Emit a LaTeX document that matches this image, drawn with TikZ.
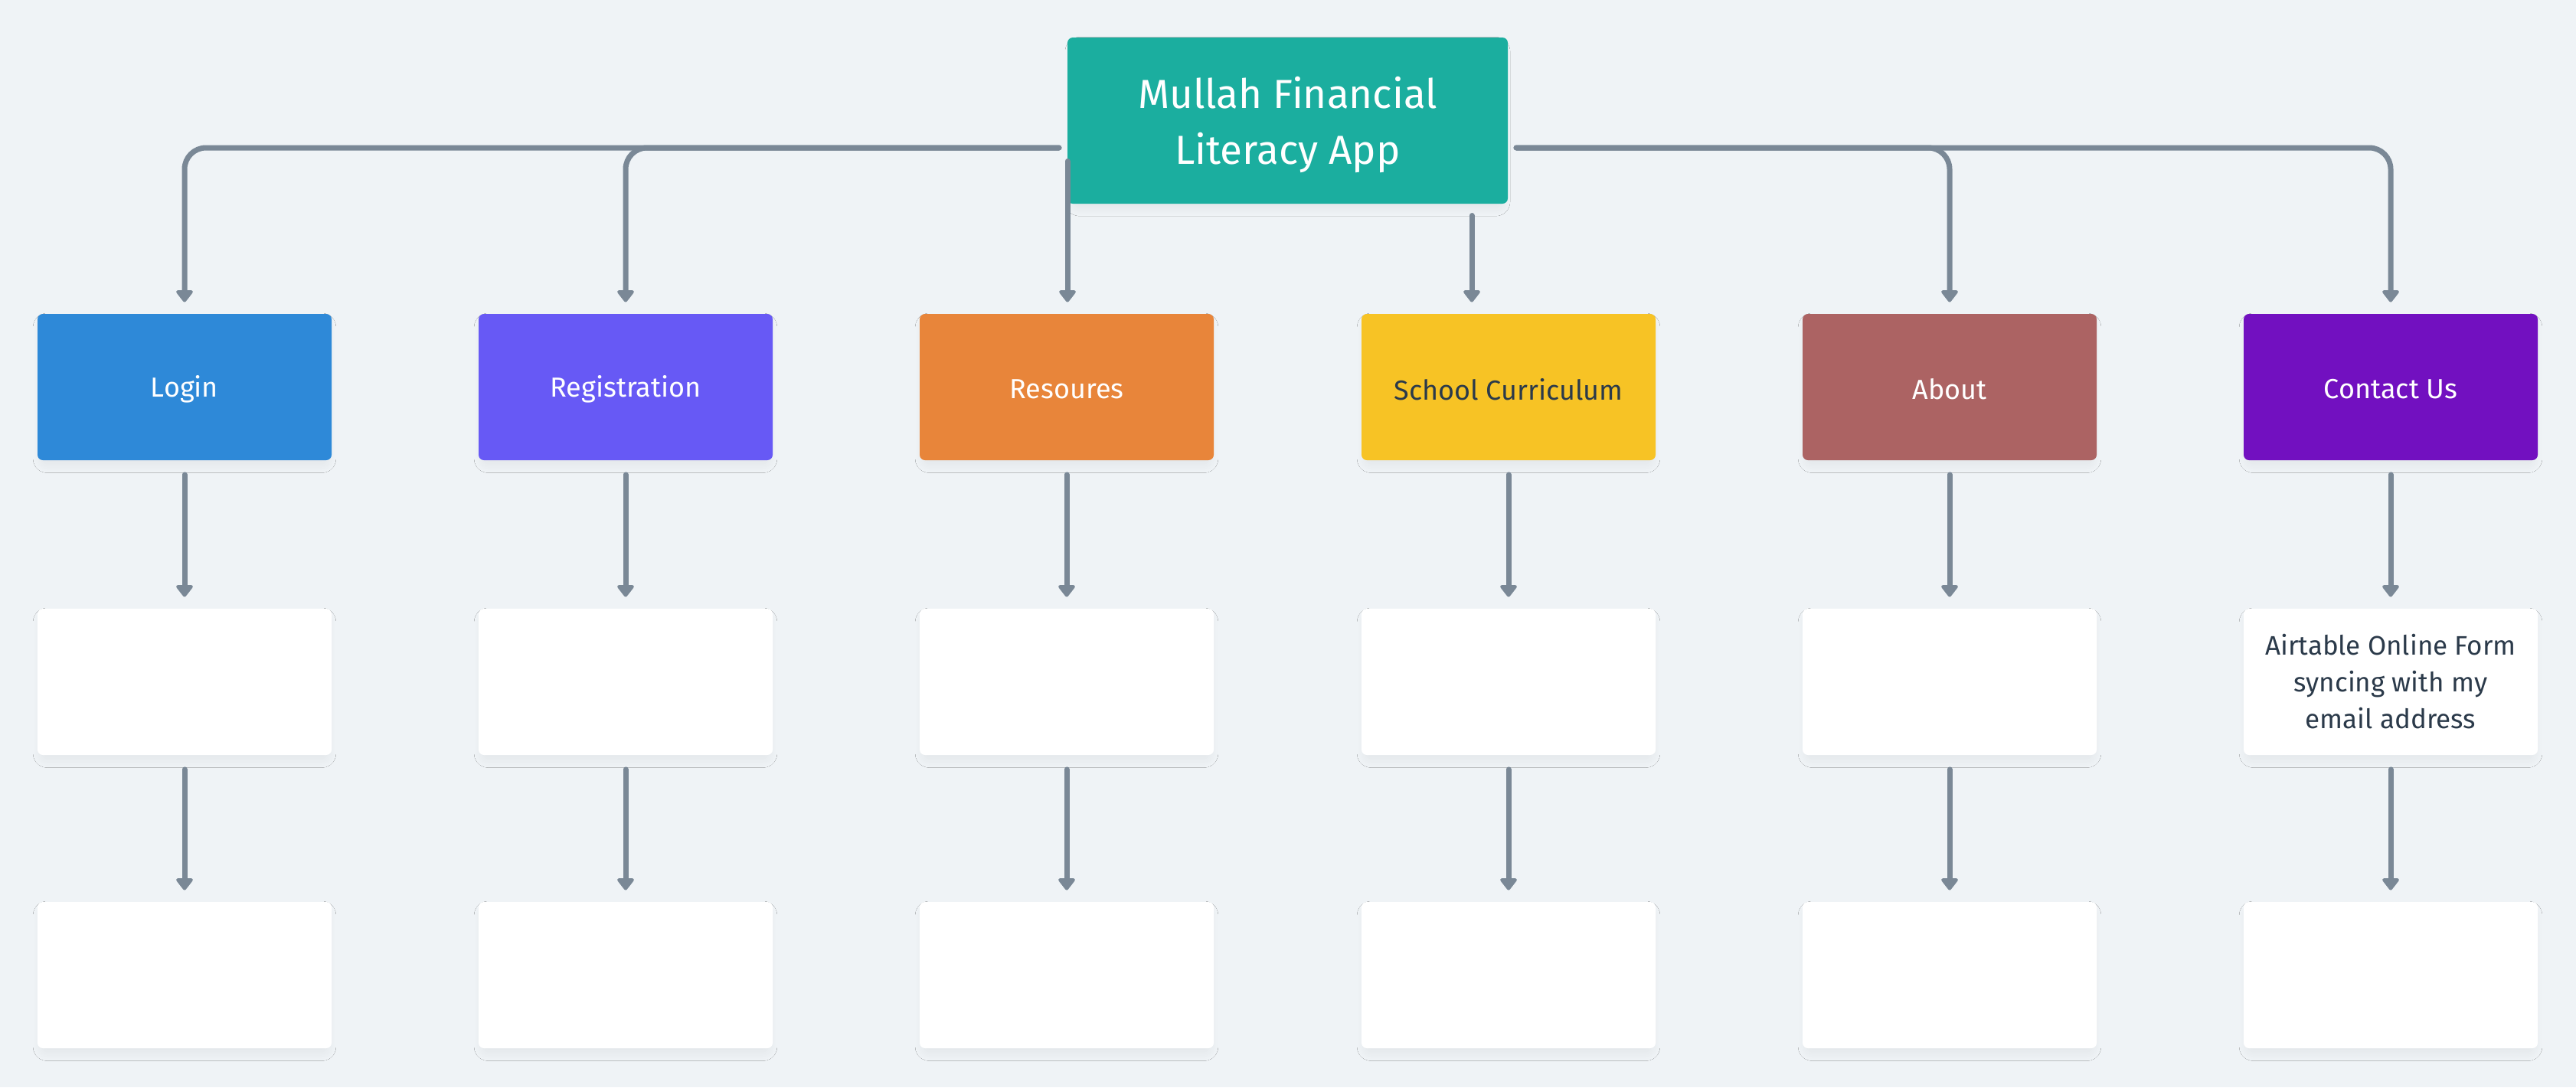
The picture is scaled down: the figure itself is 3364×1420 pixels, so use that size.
\documentclass[tikz,border=0pt]{standalone}
\usepackage{fontspec}
\setmainfont{Fira Sans}
\usetikzlibrary{arrows.meta,shadows.blur}
\definecolor{bg}{HTML}{EFF3F6}
\definecolor{lineg}{HTML}{7A8896}
\definecolor{teal}{HTML}{1BAE9F}
\definecolor{cblue}{HTML}{2E89D8}
\definecolor{cviolet}{HTML}{6759F5}
\definecolor{corange}{HTML}{E8853A}
\definecolor{cyellow}{HTML}{F7C325}
\definecolor{cbrown}{HTML}{AC6363}
\definecolor{cpurple}{HTML}{7210C0}
\definecolor{darktext}{HTML}{2B3A4A}
\newcommand\cardtext[1]{\raisebox{-1.5pt}[\height][\depth]{#1}}
\tikzset{
  card/.style={rounded corners=3.5pt, minimum width=192pt, minimum height=95.5pt,
    inner sep=0pt, align=center, text=white, font=\fontsize{18}{24}\selectfont,
    blur shadow={shadow blur steps=16, shadow xshift=0pt, shadow yshift=-4pt, shadow opacity=6, shadow blur radius=6pt, shadow scale=0.97}},
  blank/.style={card, fill=white, text=darktext, font=\fontsize{17.5}{24}\selectfont},
  conn/.style={draw=lineg, line width=3.5pt, line cap=round, rounded corners=14pt,
    -{Triangle[length=8.5pt,width=12.5pt,round]}, shorten >=7.5pt},
  rowconn/.style={conn, shorten <=9.25pt}
}
\begin{document}
\begin{tikzpicture}[x=0.5pt,y=-0.5pt]
\fill[bg] (0,0) rectangle (3364,1420);
\useasboundingbox (0,0) rectangle (3364,1420);

\node[card, fill=teal, minimum width=287.5pt, minimum height=108.5pt,
  font=\fontsize{26.5}{36.5}\selectfont] (app) at (1681.5,157.5)
  {\raisebox{-3pt}[\height][\depth]{\begin{tabular}{@{}c@{}}Mullah Financial\\Literacy App\end{tabular}}};

\node[card, fill=cblue] (login) at (241,505.5) {\cardtext{Login}};
\node[card, fill=cviolet] (reg) at (817,505.5) {\cardtext{Registration}};
\node[card, fill=corange] (res) at (1393,505.5) {\cardtext{Resoures}};
\node[card, fill=cyellow, text=darktext] (sch) at (1970,505.5) {\cardtext{School Curriculum}};
\node[card, fill=cbrown] (about) at (2546,505.5) {\cardtext{About}};
\node[card, fill=cpurple] (contact) at (3122,505.5) {\cardtext{Contact Us}};

\node[blank] (login2) at (241,890.5) {};
\node[blank] (reg2) at (817,890.5) {};
\node[blank] (res2) at (1393,890.5) {};
\node[blank] (sch2) at (1970,890.5) {};
\node[blank] (about2) at (2546,890.5) {};
\node[blank] (contact2) at (3122,890.5) {Airtable Online Form\\syncing with my\\email address};

\node[blank] (login3) at (241,1273.5) {};
\node[blank] (reg3) at (817,1273.5) {};
\node[blank] (res3) at (1393,1273.5) {};
\node[blank] (sch3) at (1970,1273.5) {};
\node[blank] (about3) at (2546,1273.5) {};
\node[blank] (contact3) at (3122,1273.5) {};

\coordinate (L) at (1383,193);
\coordinate (R) at (1980,193);
\coordinate (rs) at (1394,210.5);
\coordinate (ss) at (1922,281.5);

\draw[conn] (L) -| (login);
\draw[conn] (L) -| (reg);
\draw[conn] (R) -| (about);
\draw[conn] (R) -| (contact);
\draw[conn] (rs) -- (rs |- res.north);
\draw[conn] (ss) -- (ss |- sch.north);

\foreach \n in {login,reg,res,sch,about,contact}{
  \draw[rowconn] (\n) -- (\n2);
  \draw[rowconn] (\n2) -- (\n3);
}
\end{tikzpicture}
\end{document}
